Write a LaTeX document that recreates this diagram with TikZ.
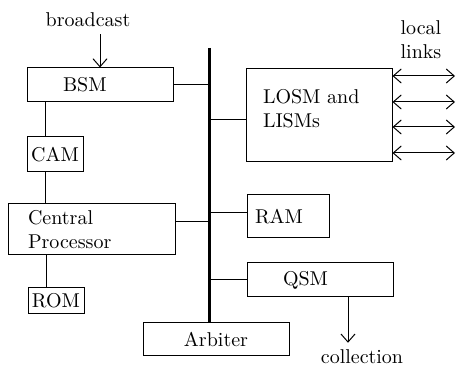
\documentclass[tikz,border=0pt]{standalone}
\usepackage{amsmath}
\usepackage{tikz}
\usetikzlibrary{calc, arrows.meta}

\tikzset{
	blk/.style = {draw, rectangle, inner ysep=0pt},
	chev/.style = {arrows = {-Straight Barb[length=4pt, width=7pt]}},
	bichev/.style = {arrows = {Straight Barb[length=4pt, width=7pt]-Straight Barb[length=4pt, width=7pt]}},
}

\begin{document}
\begin{tikzpicture}[x=0.5pt, y=-0.5pt, line width=0.5pt]
		\useasboundingbox (0, 0) rectangle (456, 367);
		
		\def\busx{209}
		
		% processing units on the left
		\node [blk, align=left, text width=37pt, inner xsep=18pt, minimum height=17pt] (bsm) at (100, 85) {BSM};
		\node [blk, minimum width=28pt, minimum height=17.5pt, inner xsep=1pt] (cam) at (55, 154.5) {CAM};
		\node [blk, align=left, text width=63.5pt, inner xsep=10pt, minimum height=25.5pt] (cpu) at (91.5, 229.5) {Central\\Processor};
		\node [blk, minimum width=28pt, minimum height=13pt, inner xsep=1pt] (rom) at (56, 301) {ROM};
		
		% units on the right of the bus
		\node [blk, align=left, text width=56pt, inner xsep=8.5pt, minimum height=46.5pt, text depth=19pt] (losm) at (319, 115.5) {LOSM and\\LISMs};
		\node [blk, align=left, text width=33pt, inner xsep=4pt, minimum height=21.5pt] (ram) at (288, 216.5) {RAM};
		\node [blk, align=left, text width=37pt, inner xsep=18pt, minimum height=17pt] (qsm) at (320, 280) {QSM};
		\node [blk, minimum width=73pt, minimum height=16.5pt] (arb) at (216, 339.5) {Arbiter};
		
		\node (bcast) at (88, 20) {broadcast};
		\node [align=left] (links) at (421, 40) {local\\links};
		\node (coll) at (362, 357) {collection};
		
		% the bus
		\coordinate (bus top) at (\busx, 48);
		\draw [line width=1.5pt] (bus top) -- (bus top |- arb.north);
		
		\coordinate (tap losm) at (\busx, 120);
		\coordinate (tap ram) at (\busx, 213);
		\coordinate (tap cpu) at (\busx, 222);
		
		\draw (bsm.east) -- (bus top |- bsm.east);
		\draw (tap losm) -- (tap losm -| losm.west);
		\draw (tap ram) -- (tap ram -| ram.west);
		\draw (tap cpu) -- (tap cpu -| cpu.east);
		\draw (qsm.west) -- (bus top |- qsm.west);
		
		% left column links
		\coordinate (cam top) at ([xshift=-5pt]cam.north);
		\coordinate (cam bottom) at ([xshift=-5pt]cam.south);
		\coordinate (rom top) at ([xshift=-5pt]rom.north);
		\draw (cam top) -- (cam top |- bsm.south);
		\draw (cam bottom) -- (cam bottom |- cpu.north);
		\draw (rom top) -- (rom top |- cpu.south);
		
		% outside connections
		\draw [chev] (bcast.south -| bsm.north) -- (bsm.north);
		
		\coordinate (qsm out) at ([xshift=14pt]qsm.south);
		\draw [chev] (qsm out) -- (qsm out |- coll.north);
		
		\foreach \y [count=\i] in {76, 102, 127, 153} {
			\coordinate (link \i) at (455, \y);
			\draw [bichev] (losm.east |- link \i) -- (link \i);
		}
	\end{tikzpicture}
\end{document}
